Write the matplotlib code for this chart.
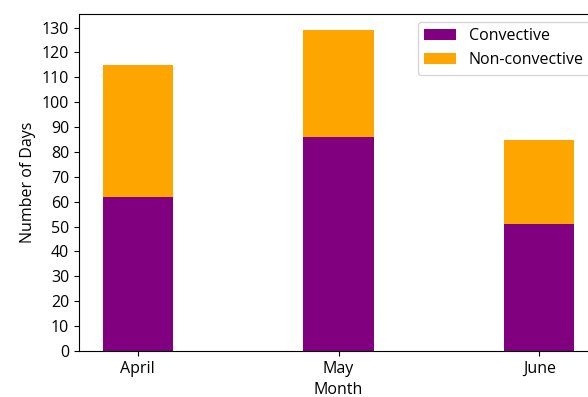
import matplotlib
matplotlib.use("Agg")
from matplotlib import pyplot as plt

plt.rcParams['font.family'] = ['Open Sans', 'DejaVu Sans']
plt.rcParams['font.size'] = 11.5

months = ['April', 'May', 'June']
convective = [62, 86, 51]
non_convective = [53, 43, 34]

fig = plt.figure(figsize=(5.88, 3.97), dpi=100)
ax = fig.add_axes([79 / 588, 1 - 351 / 397, (598 - 79) / 588, (351 - 14) / 397])

x = range(len(months))
ax.bar(x, convective, width=0.35, color='purple', label='Convective')
ax.bar(x, non_convective, width=0.35, bottom=convective, color='orange', label='Non-convective')

ax.set_xticks(list(x))
ax.set_xticklabels(months)
ax.set_yticks(range(0, 131, 10))
ax.set_xlabel('Month', labelpad=3.5)
ax.set_ylabel('Number of Days')
ax.legend(loc='upper right')

fig.savefig('out.png', dpi=100)
